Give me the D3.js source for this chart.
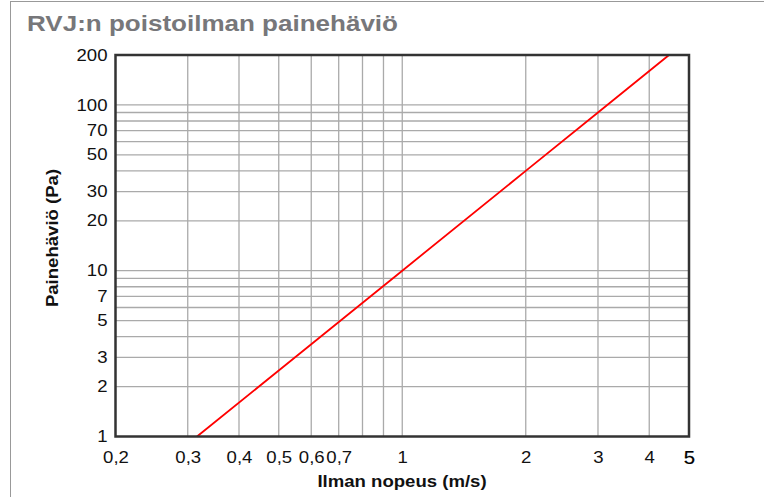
<!DOCTYPE html>
<html><head><meta charset="utf-8">
<script src="https://cdn.jsdelivr.net/npm/d3@7"></script>
<style>
body{margin:0;background:#fff;}
svg{display:block;font-family:"Liberation Sans",Arial,sans-serif;}
</style></head>
<body><svg id="c" width="764" height="497"></svg>
<script>
const title = "RVJ:n poistoilman painehäviö";
const xLabel = "Ilman nopeus (m/s)";
const yLabel = "Painehäviö (Pa)";
const velocity = [0.316, 0.5, 1, 2, 3, 4.47];
const pressure = [1, 2.5, 10, 40, 90, 200];
const xTicks = [0.2, 0.3, 0.4, 0.5, 0.6, 0.7, 1, 2, 3, 4, 5];
const xTickLabels = ["0,2","0,3","0,4","0,5","0,6","0,7","1","2","3","4","5"];
const xGrid = [0.3,0.4,0.5,0.6,0.7,0.8,0.9,1,2,3,4];
const yTicks = [1,2,3,5,7,10,20,30,50,70,100,200];
const yTickLabels = ["1","2","3","5","7","10","20","30","50","70","100","200"];
const yGrid = [2,3,4,5,6,7,8,9,10,20,30,40,50,60,70,80,90,100];

const svg = d3.select("#c");
const L=115.5, R=689, T=55, B=436.5;
const x = d3.scaleLog().domain([0.2,5]).range([L,R]);
const y = d3.scaleLog().domain([1,200]).range([B,T]);
const STRETCH = 1.16;
function stretch(sel){
  sel.each(function(){
    const w = this.getComputedTextLength();
    d3.select(this).attr("textLength", w*STRETCH).attr("lengthAdjust","spacingAndGlyphs");
  });
}

// outer frame lines
svg.append("line").attr("x1",10.5).attr("x2",10.5).attr("y1",1).attr("y2",497).attr("stroke","#999").attr("stroke-width",1);
svg.append("line").attr("x1",10).attr("x2",764).attr("y1",1.5).attr("y2",1.5).attr("stroke","#999").attr("stroke-width",1);

svg.append("text").attr("x",27).attr("y",31).attr("fill","#77777a").attr("font-weight","bold")
  .attr("font-size",22).attr("textLength",371).attr("lengthAdjust","spacingAndGlyphs").text(title);

const g = svg.append("g");
g.selectAll(".gx").data(xGrid).join("line").attr("x1",d=>x(d)).attr("x2",d=>x(d)).attr("y1",T).attr("y2",B)
  .attr("stroke","#aaa").attr("stroke-width",1.3);
g.selectAll(".gy").data(yGrid).join("line").attr("y1",d=>y(d)).attr("y2",d=>y(d)).attr("x1",L).attr("x2",R)
  .attr("stroke","#aaa").attr("stroke-width",1.3);

const line = d3.line().x(d=>x(d[0])).y(d=>y(d[1]));
g.append("path").datum(velocity.map((v,i)=>[v,pressure[i]])).attr("d",line)
  .attr("fill","none").attr("stroke","#ff0000").attr("stroke-width",1.8);

g.append("rect").attr("x",L).attr("y",T).attr("width",R-L).attr("height",B-T)
  .attr("fill","none").attr("stroke","#333").attr("stroke-width",2.5);

// axes via d3 axis
const xa = d3.axisBottom(x).tickValues(xTicks).tickSize(0).tickPadding(15)
  .tickFormat((d,i)=>xTickLabels[i]);
const xg = svg.append("g").attr("transform",`translate(0,${B})`).call(xa);
xg.select(".domain").remove();
xg.selectAll("text").attr("font-size",16).attr("fill","#111").attr("font-family","Liberation Sans, Arial, sans-serif");
xg.selectAll("text").filter(d=>d===5).attr("fill","#000").attr("font-size",17.5);
stretch(xg.selectAll("text"));
xg.selectAll("text").filter(d=>d===5).attr("stroke","#000").attr("stroke-width",0.2);

const ya = d3.axisLeft(y).tickValues(yTicks).tickSize(0).tickPadding(8)
  .tickFormat((d,i)=>yTickLabels[i]);
const yg = svg.append("g").attr("transform",`translate(${L},0)`).call(ya);
yg.select(".domain").remove();
yg.selectAll("text").attr("font-size",16).attr("fill","#111").attr("font-family","Liberation Sans, Arial, sans-serif");
stretch(yg.selectAll("text"));

stretch(svg.append("text").attr("x",402).attr("y",487).attr("text-anchor","middle").attr("font-weight","bold")
  .attr("font-size",16).attr("fill","#111").text(xLabel));
stretch(svg.append("text").attr("transform","translate(58,238) rotate(-90)").attr("text-anchor","middle").attr("font-weight","bold")
  .attr("font-size",16).attr("fill","#111").text(yLabel));
</script></body></html>
